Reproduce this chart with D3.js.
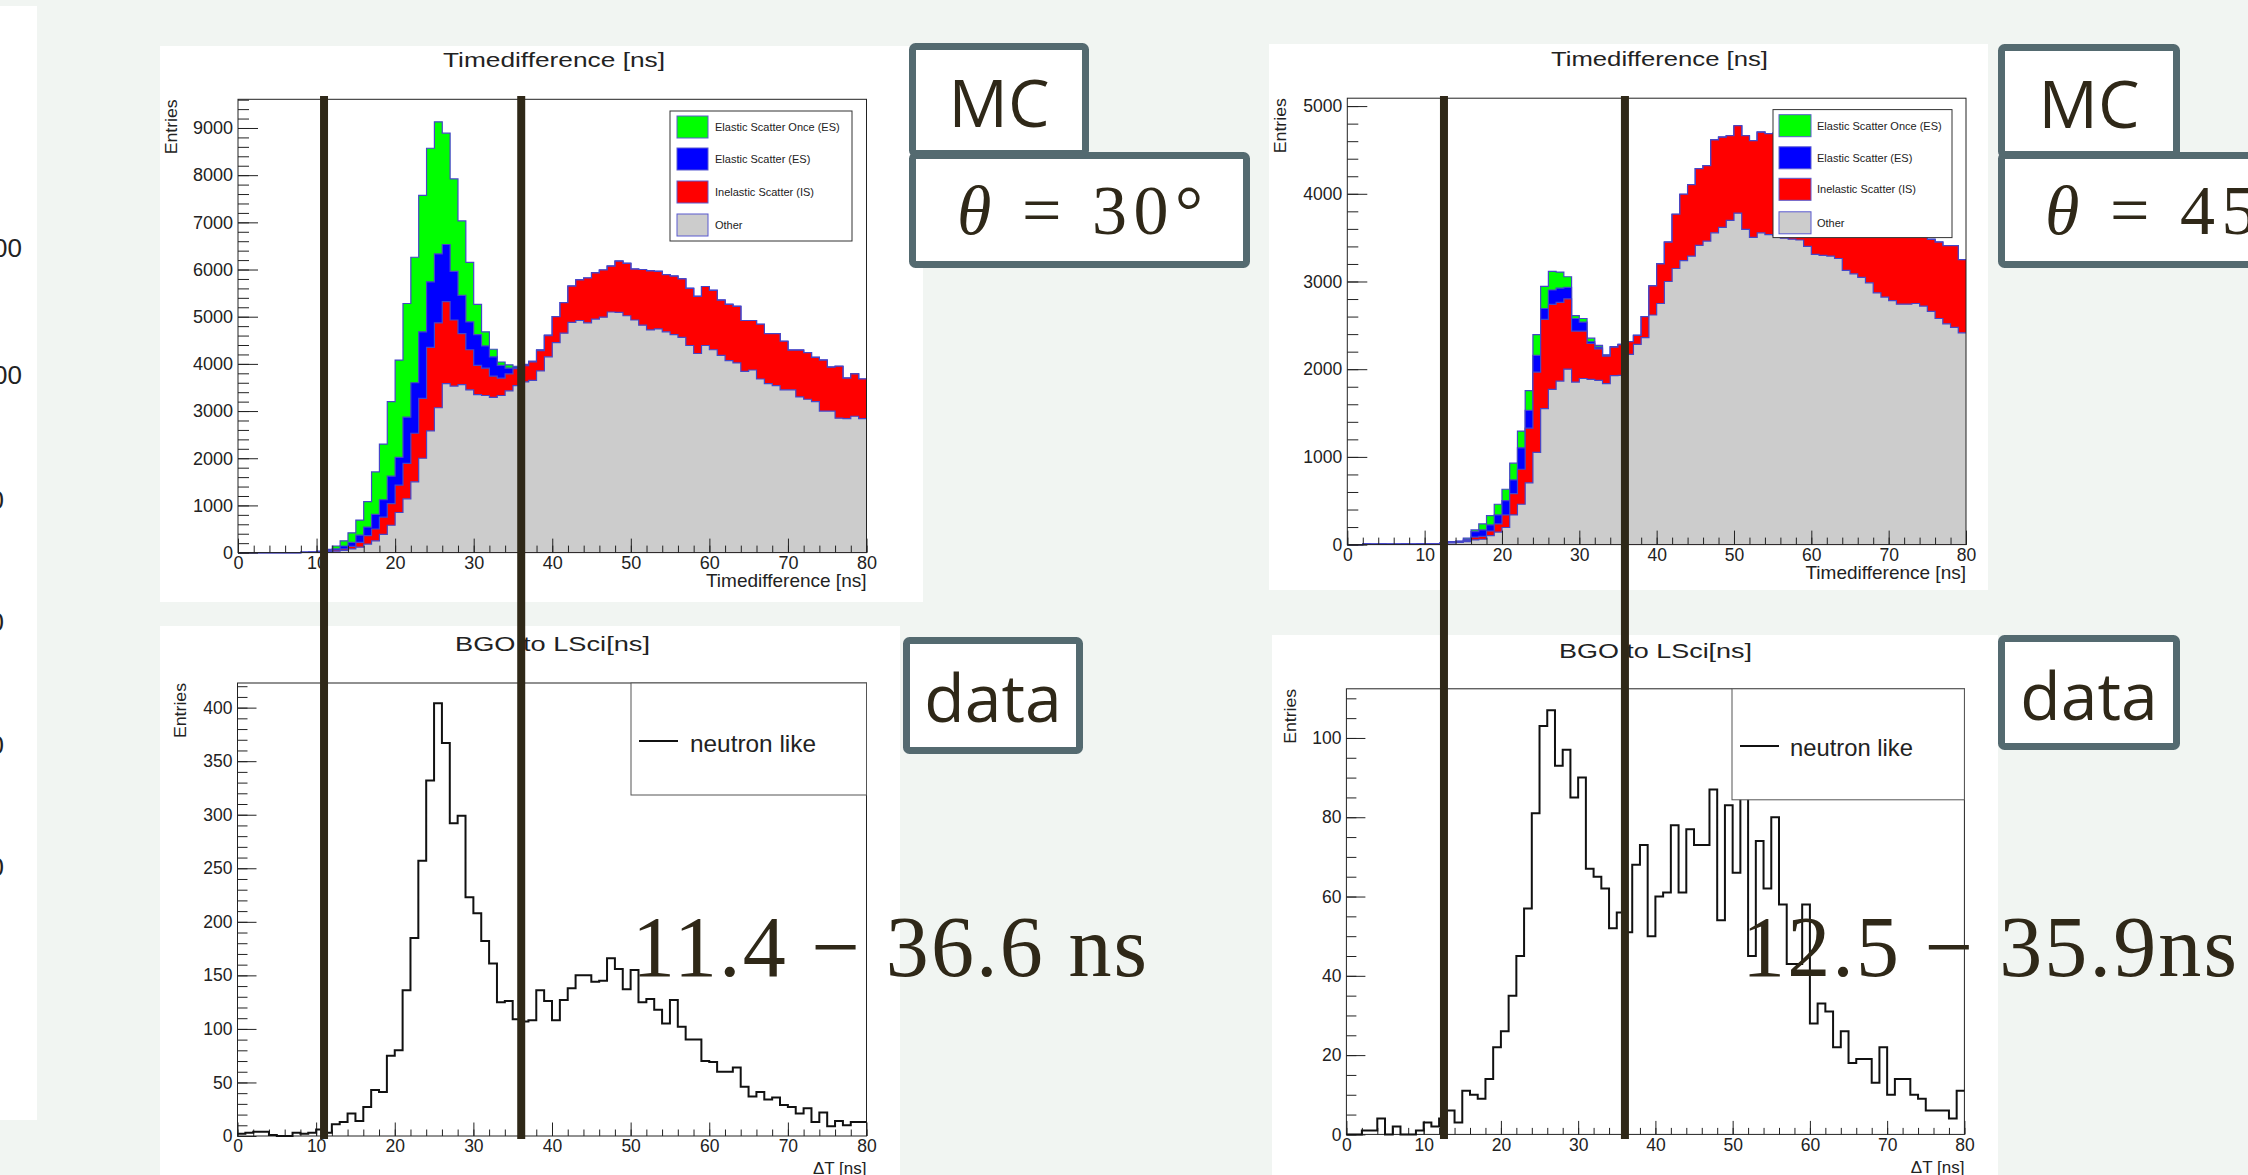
<!DOCTYPE html>
<meta charset='utf-8'>
<style>
body { margin: 0; background: #f1f5f2; overflow: hidden; }
svg text { font-family: 'Liberation Sans', Arial, sans-serif; fill: #222; }
.frame { fill: none; stroke: #222; stroke-width: 1px; }
.hist-outline { fill: none; stroke: #4646c8; stroke-width: 1.2px; }
.data-line { fill: none; stroke: #111; stroke-width: 2px; }
.cut { stroke: #2f2818; stroke-width: 8px; }
.tag rect { fill: white; stroke: #546a70; stroke-width: 7px; }
.tag text { font-family: 'Open Sans', 'Noto Sans', sans-serif; fill: #2f2818; }
svg text.math, .tag text.math { font-family: 'Liberation Serif', 'DejaVu Serif', serif; fill: #2f2818; }
</style>
<body>
<script src='https://cdn.jsdelivr.net/npm/d3@7/dist/d3.min.js'></script>
<script>
'use strict'

// Data: 80 bins of 1 ns, 0-80 ns

const nBins = 80
const xDomain = [0, 80]
const xMajor = [0, 10, 20, 30, 40, 50, 60, 70, 80]
const stackKeys = ['other', 'inelastic', 'elastic', 'elasticOnce']
const stackLabels = ['Elastic Scatter Once (ES)', 'Elastic Scatter (ES)', 'Inelastic Scatter (IS)', 'Other']
const stackColors = {elasticOnce: '#00ff00', elastic: '#0000ff', inelastic: '#ff0000', other: '#cccccc'}

// MC, theta = 30 deg (per-component counts)
const mc30_other = [0,0,0,0,0,0,0,0,5,8, 12,15,30,46,77,115,180,250,385,580,
	850,1140,1500,2000,2580,3070,3580,3530,3560,3450, 3350,3330,3290,3330,3430,3540,3620,3650,3850,4150,
	4450,4650,4880,4920,4870,4950,4990,5100,5090,5020, 4930,4820,4720,4740,4680,4620,4560,4390,4220,4390,
	4300,4180,4070,4020,3840,3870,3680,3580,3540,3450, 3450,3300,3250,3200,3000,3000,2850,2840,2890,2840]
const mc30_inelastic = [0,0,0,0,0,0,0,0,0,0, 3,10,25,31,53,100,180,250,365,460,
	580,750,1030,1270,1770,1800,1740,1400,1080,850, 620,580,450,370,360,360,340,390,430,450,
	550,650,770,860,950,980,1000,970,1090,1110, 1080,1180,1250,1220,1210,1240,1240,1210,1210,1250,
	1260,1170,1190,1200,1080,1050,1160,1060,1100,1030, 840,990,990,940,1080,930,1100,860,900,840]
const mc30_elastic = [0,0,0,0,0,0,0,0,0,0, 5,15,22,63,85,155,180,310,370,580,
	590,980,1070,1410,1390,1460,1210,1030,810,590, 650,470,410,270,120,30,15,10,10,5,
	0,0,0,0,0,0,0,0,0,0, 0,0,0,0,0,0,0,0,0,0, 0,0,0,0,0,0,0,0,0,0, 0,0,0,0,0,0,0,0,0,0]
const mc30_elasticOnce = [0,0,0,0,0,0,0,0,3,2, 10,30,63,110,205,320,540,900,1180,1580,
	2060,2410,2660,2890,2830,2800,2360,1960,1580,1260, 640,300,160,70,70,20,15,10,10,5,
	0,0,0,0,0,0,0,0,0,0, 0,0,0,0,0,0,0,0,0,0, 0,0,0,0,0,0,0,0,0,0, 0,0,0,0,0,0,0,0,0,0]

// MC, theta = 45 deg
const mc45_other = [0,0,8,6,8,5,6,8,6,8, 8,10,15,20,25,35,53,61,102,143,
	195,338,460,704,1051,1551,1771,1865,2000,1853, 1894,1885,1873,1836,1926,1930,2170,2284,2360,2618,
	2749,3000,3148,3237,3290,3412,3461,3555,3616,3697, 3779,3595,3502,3555,3535,3522,3494,3482,3473,3400,
	3310,3298,3290,3262,3127,3087,3046,2985,2871,2822, 2781,2741,2741,2749,2720,2659,2578,2517,2476,2415]
const mc45_inelastic = [0,0,0,0,0,0,0,0,0,0, 0,0,3,5,8,10,33,33,53,93,
	143,244,399,623,916,1018,969,896,802,582, 541,408,359,314,326,350,143,102,240,332,
	451,450,619,758,815,876,860,1059,1030,965, 997,1067,1104,1148,1152,1168,1106,1068,977,1020,
	1070,1002,960,918,973,933,904,915,979,958, 939,909,879,821,800,821,872,893,934,835]
const mc45_elastic = [0,0,0,0,0,0,0,0,0,0, 0,0,2,5,4,15,61,73,69,102,
	163,155,245,204,191,123,163,163,130,143, 102,20,20,8,3,2,0,0,0,0,
	0,0,0,0,0,0,0,0,0,0, 0,0,0,0,0,0,0,0,0,0, 0,0,0,0,0,0,0,0,0,0, 0,0,0,0,0,0,0,0,0,0]
const mc45_elasticOnce = [0,0,0,0,0,0,0,0,0,0, 0,0,2,3,4,13,20,69,106,122,
	130,191,191,224,236,252,212,183,122,32, 41,41,20,7,3,2,0,0,0,0,
	0,0,0,0,0,0,0,0,0,0, 0,0,0,0,0,0,0,0,0,0, 0,0,0,0,0,0,0,0,0,0, 0,0,0,0,0,0,0,0,0,0]

// data, neutron like
const data30 = [2,3,4,4,1,0,0,3,2,3, 6,3,11,13,21,14,27,43,41,75,
	80,136,185,257,332,404,367,292,299,223, 208,182,161,125,126,109,107,108,136,126,
	108,127,138,150,150,144,145,166,156,137, 155,125,128,118,105,127,102,90,90,70,
	69,60,60,64,46,37,41,34,36,29, 27,21,26,13,22,9,14,10,13,13]
const data45 = [0,0,1,1,4,0,2,0,0,1, 3,2,4,6,3,11,10,9,14,22,
	26,35,45,57,81,103,107,93,97,85, 90,67,65,62,52,56,51,68,73,50,
	60,61,78,61,77,73,73,87,54,83, 66,85,45,74,62,80,58,43,43,58,
	28,33,31,22,26,18,19,19,13,22, 10,14,14,10,9,6,6,6,4,11]

// cut lines, in ns on the upper axes (as drawn)
const cuts30 = [10.95, 36.05], cuts45 = [12.5, 35.9]
const rangeLabels = ['11.4 \u2212 36.6 ns', '12.5 \u2212 35.9ns']

// Layout

const svg = d3.select('body').append('svg').attr('width', 2248).attr('height', 1175)

// partial panel at the left edge
svg.append('rect').attr('x', 0).attr('y', 6).attr('width', 37).attr('height', 1114).attr('fill', 'white')
svg.append('g').selectAll('text')
	.data([['00', 248, 22], ['00', 375, 22], ['0', 500, 4], ['0', 622, 4], ['0', 745, 4], ['0', 867, 4]])
	.enter().append('text')
		.attr('x', d => d[2]).attr('y', d => d[1]).attr('dy', '.35em')
		.attr('text-anchor', 'end').attr('font-size', 26).text(d => d[0])

function panel(p) {
	let g = svg.append('g')
	g.append('rect').attr('x', p.box[0]).attr('y', p.box[1]).attr('width', p.box[2]).attr('height', p.box[3]).attr('fill', 'white')
	let x = d3.scaleLinear().domain(xDomain).range([p.frame[0], p.frame[2]]),
		y = d3.scaleLinear().domain([0, p.yMax]).range([p.frame[3], p.frame[1]])
	return {p, g, x, y}
}

function axes(P) {
	let {p, g, x, y} = P
	let yMajor = d3.range(0, p.yMax + 1e-9, p.yStep),
		yMinor = d3.range(0, p.yMax + 1e-9, p.yMinorStep),
		xMinor = d3.range(0, 80.1, 2)
	g.append('g').attr('transform', `translate(${p.frame[0]},0)`).attr('color', '#222')
		.call(d3.axisLeft(y).tickValues(yMinor).tickSize(-p.minorLen[0]).tickFormat(''))
		.call(s => s.select('.domain').remove())
	g.append('g').attr('transform', `translate(${p.frame[0]},0)`).attr('color', '#222')
		.call(d3.axisLeft(y).tickValues(yMajor).tickSize(-p.majorLen[0]).tickPadding(5).tickFormat(d3.format('d')))
		.attr('font-size', p.fs).attr('font-family', null)
		.call(s => s.select('.domain').remove())
	g.append('g').attr('transform', `translate(0,${p.frame[3]})`).attr('color', '#222')
		.call(d3.axisBottom(x).tickValues(xMinor).tickSize(-p.minorLen[1]).tickFormat(''))
		.call(s => s.select('.domain').remove())
	g.append('g').attr('transform', `translate(0,${p.frame[3]})`).attr('color', '#222')
		.call(d3.axisBottom(x).tickValues(xMajor).tickSize(-p.majorLen[1]).tickPadding(4).tickFormat(d3.format('d')))
		.attr('font-size', p.fs).attr('font-family', null)
		.call(s => s.select('.domain').remove())
	g.append('rect').attr('class', 'frame')
		.attr('x', p.frame[0]).attr('y', p.frame[1])
		.attr('width', p.frame[2] - p.frame[0]).attr('height', p.frame[3] - p.frame[1])

	g.append('text').attr('x', p.title.x).attr('y', p.title.y).attr('text-anchor', 'middle')
		.attr('font-size', 21).attr('textLength', p.title.len).attr('lengthAdjust', 'spacingAndGlyphs').text(p.title.text)
	g.append('text').attr('x', p.frame[2]).attr('y', p.xTitle.y).attr('text-anchor', 'end')
		.attr('font-size', p.xTitle.size).text(p.xTitle.text)
	g.append('text').attr('transform', `translate(${p.yTitle.x},${p.frame[1]}) rotate(-90)`)
		.attr('text-anchor', 'end').attr('font-size', 16)
		.attr('textLength', 55).attr('lengthAdjust', 'spacingAndGlyphs').text('Entries')
}

let stepPts = vals => vals.concat([vals[vals.length - 1]])

function stack(P, comps) {
	let {g, x, y} = P
	let rows = d3.range(nBins).map(i => Object.fromEntries(stackKeys.map((k, j) => [k, comps[j][i]])))
	let series = d3.stack().keys(stackKeys)(rows)
	series.slice().reverse().forEach(s => {
		let tops = stepPts(s.map(d => d[1]))
		g.append('path').datum(tops).attr('fill', stackColors[s.key])
			.attr('d', d3.area().curve(d3.curveStepAfter).x((d, i) => x(i)).y0(y(0)).y1(d => y(d)))
		g.append('path').datum(tops).attr('class', 'hist-outline')
			.attr('d', d3.line().curve(d3.curveStepAfter).x((d, i) => x(i)).y(d => y(d)))
	})
}

function stackLegend(P, L) {
	let g = P.g.append('g')
	g.append('rect').attr('x', L.x).attr('y', L.y).attr('width', L.w).attr('height', L.h)
		.attr('fill', 'white').attr('stroke', '#333').attr('stroke-width', 1)
	let keys = ['elasticOnce', 'elastic', 'inelastic', 'other']
	keys.forEach((k, i) => {
		let cy = L.rows[i]
		g.append('rect').attr('x', L.sx).attr('y', cy - 11).attr('width', L.sw).attr('height', 22)
			.attr('fill', stackColors[k]).attr('stroke', '#5a5ad0').attr('stroke-width', 1)
		g.append('text').attr('x', L.tx).attr('y', cy).attr('dy', '.35em')
			.attr('font-size', 11).attr('fill', '#333').text(stackLabels[i])
	})
}

function dataHist(P, vals, L) {
	let {g, x, y} = P
	g.append('path').datum(stepPts(vals)).attr('class', 'data-line')
		.attr('d', d3.line().curve(d3.curveStepAfter).x((d, i) => x(i)).y(d => y(d)))
	let lg = g.append('g')
	lg.append('rect').attr('x', L.x).attr('y', L.y).attr('width', L.w).attr('height', L.h)
		.attr('fill', 'white').attr('stroke', '#555').attr('stroke-width', 1)
	lg.append('line').attr('x1', L.lx).attr('x2', L.lx + 39).attr('y1', L.ly).attr('y2', L.ly)
		.attr('stroke', '#111').attr('stroke-width', 2)
	lg.append('text').attr('x', L.tx).attr('y', L.ty).attr('font-size', 24)
		.attr('textLength', L.tlen).attr('lengthAdjust', 'spacingAndGlyphs').text('neutron like')
}

let mc30 = panel({box: [160, 46, 763, 556], frame: [238, 99.3, 866.5, 552.6], yMax: 9608, yStep: 1000, yMinorStep: 200,
	fs: 18, majorLen: [20, 14], minorLen: [11, 7],
	title: {text: 'Timedifference [ns]', x: 554, y: 66.5, len: 222},
	xTitle: {text: 'Timedifference [ns]', y: 587, size: 19}, yTitle: {x: 177}})
stack(mc30, [mc30_other, mc30_inelastic, mc30_elastic, mc30_elasticOnce])
axes(mc30)
stackLegend(mc30, {x: 670, y: 111, w: 182, h: 130, rows: [127, 159, 192, 225], sx: 677, sw: 31, tx: 715})

let mc45 = panel({box: [1269, 44, 719, 546], frame: [1347.3, 98.2, 1966, 544.6], yMax: 5090, yStep: 1000, yMinorStep: 200,
	fs: 17.5, majorLen: [20, 14], minorLen: [11, 7],
	title: {text: 'Timedifference [ns]', x: 1659.5, y: 66, len: 217},
	xTitle: {text: 'Timedifference [ns]', y: 579, size: 19}, yTitle: {x: 1286}})
stack(mc45, [mc45_other, mc45_inelastic, mc45_elastic, mc45_elasticOnce])
axes(mc45)
stackLegend(mc45, {x: 1773, y: 109.6, w: 179, h: 128, rows: [125.7, 157.8, 189.3, 222.8], sx: 1779, sw: 32, tx: 1817})

let d30 = panel({box: [160, 626, 740, 560], frame: [237.5, 683, 866.5, 1136], yMax: 423, yStep: 50, yMinorStep: 10,
	fs: 17.5, majorLen: [19, 13.5], minorLen: [10, 6.5],
	title: {text: 'BGO to LSci[ns]', x: 552.5, y: 651, len: 195},
	xTitle: {text: '\u0394T [ns]', y: 1174, size: 17}, yTitle: {x: 186}})
axes(d30)
dataHist(d30, data30, {x: 631, y: 683, w: 235.5, h: 112, lx: 639, ly: 741, tx: 690, ty: 751.5, tlen: 126})

let d45 = panel({box: [1272, 635, 726, 560], frame: [1346.4, 688.8, 1964.4, 1134.4], yMax: 112.4, yStep: 20, yMinorStep: 5,
	fs: 17.5, majorLen: [19, 13.5], minorLen: [10, 6.5],
	title: {text: 'BGO to LSci[ns]', x: 1655.5, y: 658, len: 193},
	xTitle: {text: '\u0394T [ns]', y: 1173, size: 17}, yTitle: {x: 1296}})
axes(d45)
dataHist(d45, data45, {x: 1732, y: 688.8, w: 232.4, h: 111, lx: 1740, ly: 746, tx: 1790, ty: 756, tlen: 123})

// Slide overlays: tags, range labels, cut lines

function tag(x, y, w, h) {
	let g = svg.append('g').attr('class', 'tag')
	g.append('rect').attr('x', x + 3.5).attr('y', y + 3.5).attr('width', w - 7).attr('height', h - 7).attr('rx', 3)
	return g
}
tag(909, 152, 341, 116).append('text').attr('class', 'math').attr('x', 957).attr('y', 234).attr('font-size', 70)
	.attr('textLength', 246).attr('lengthAdjust', 'spacing')
	.call(t => { t.append('tspan').attr('font-style', 'italic').text('\u03b8'); t.append('tspan').text(' = 30\u00b0') })
tag(909, 43, 180, 114).append('text').attr('x', 999).attr('y', 127).attr('text-anchor', 'middle').attr('font-size', 66).text('MC')
tag(1998, 152, 300, 116).append('text').attr('class', 'math').attr('x', 2045).attr('y', 234).attr('font-size', 70)
	.attr('textLength', 246).attr('lengthAdjust', 'spacing')
	.call(t => { t.append('tspan').attr('font-style', 'italic').text('\u03b8'); t.append('tspan').text(' = 45\u00b0') })
tag(1998, 44, 182, 114).append('text').attr('x', 2089).attr('y', 128).attr('text-anchor', 'middle').attr('font-size', 66).text('MC')
tag(903, 637, 180, 117).append('text').attr('x', 993).attr('y', 722).attr('text-anchor', 'middle').attr('font-size', 66).text('data')
tag(1998, 635, 182, 115).append('text').attr('x', 2089).attr('y', 720).attr('text-anchor', 'middle').attr('font-size', 66).text('data')

svg.append('text').attr('class', 'math').attr('x', 632).attr('y', 976).attr('font-size', 86)
	.attr('textLength', 515).attr('lengthAdjust', 'spacing').text(rangeLabels[0])
svg.append('text').attr('class', 'math').attr('x', 1742).attr('y', 976).attr('font-size', 86)
	.attr('textLength', 495).attr('lengthAdjust', 'spacing').text(rangeLabels[1])

let cutLine = (xs) => svg.append('line').attr('class', 'cut')
	.attr('x1', xs).attr('x2', xs).attr('y1', 96).attr('y2', 1139)
cuts30.forEach(c => cutLine(mc30.x(c)))
cuts45.forEach(c => cutLine(mc45.x(c)))

</script>
</body>
